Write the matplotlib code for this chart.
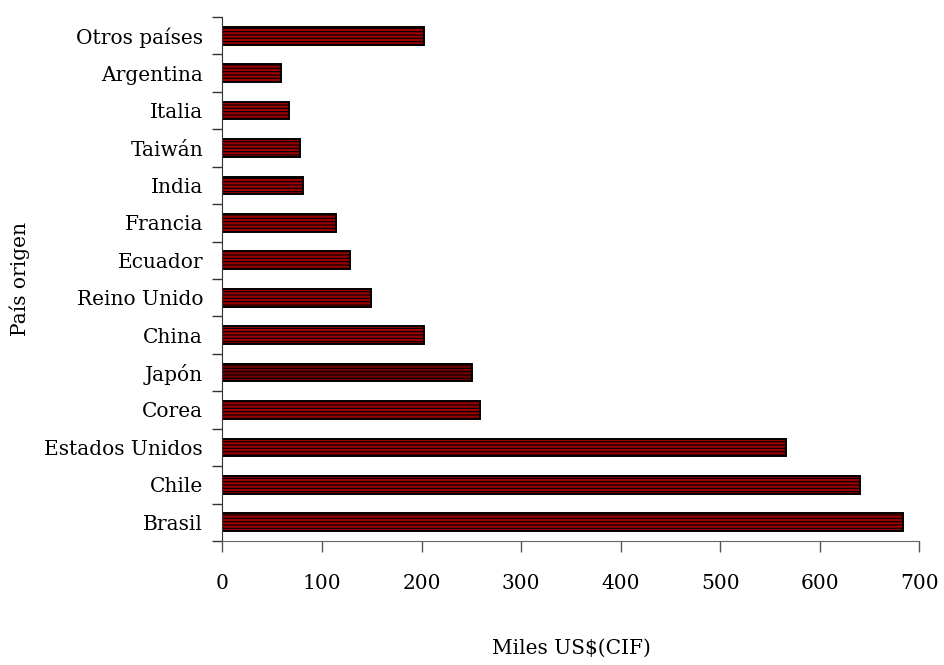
import matplotlib
matplotlib.use("Agg")
import matplotlib.pyplot as plt
import numpy as np

# categories, top to bottom as in the chart
paises = ["Otros países", "Argentina", "Italia", "Taiwán", "India", "Francia",
          "Ecuador", "Reino Unido", "China", "Japón", "Corea",
          "Estados Unidos", "Chile", "Brasil"]
valores = [202, 59, 67, 78, 81, 114, 128, 149, 202, 251, 259, 566, 640, 683]
x_ticks = [0, 100, 200, 300, 400, 500, 600, 700]

plt.rcParams['font.family'] = ['DejaVu Serif']
plt.rcParams['hatch.color'] = '#700000'
plt.rcParams['hatch.linewidth'] = 0.8

fs = 14.5
fig = plt.figure(figsize=(9.45, 6.65), dpi=100)
ax = fig.add_axes([0.2354, 0.1865, 0.973 - 0.2354, 0.9744 - 0.1865])

n = len(paises)
pos = np.arange(n)[::-1]
colores = ['#9a0000'] * n
colores[paises.index("Japón")] = '#730000'

ax.barh(pos, valores, height=0.47, color=colores, edgecolor='black',
        linewidth=1.4, hatch='-----')

ax.set_ylim(-0.5, n - 0.5)
ax.set_xlim(0, 700)
ax.set_xticks(x_ticks)
ax.set_xticklabels([str(v) for v in x_ticks], fontsize=fs)

ax.set_yticks(pos)
ax.set_yticklabels(paises, fontsize=fs)
ax.set_yticks(np.arange(-0.5, n, 1.0), minor=True)
ax.tick_params(axis='y', which='major', length=0, pad=14)
ax.tick_params(axis='y', which='minor', length=7, width=1, color='#333333', direction='out')
ax.tick_params(axis='x', length=8, width=1, color='#555555', direction='out', pad=16)

for s in ['top', 'right']:
    ax.spines[s].set_visible(False)
ax.spines['left'].set_color('#333333')
ax.spines['bottom'].set_color('#666666')

ax.set_xlabel("Miles US$(CIF)", fontsize=fs, labelpad=33)
ax.set_ylabel("País origen", fontsize=fs, labelpad=10)

fig.savefig("out.png", dpi=100)
